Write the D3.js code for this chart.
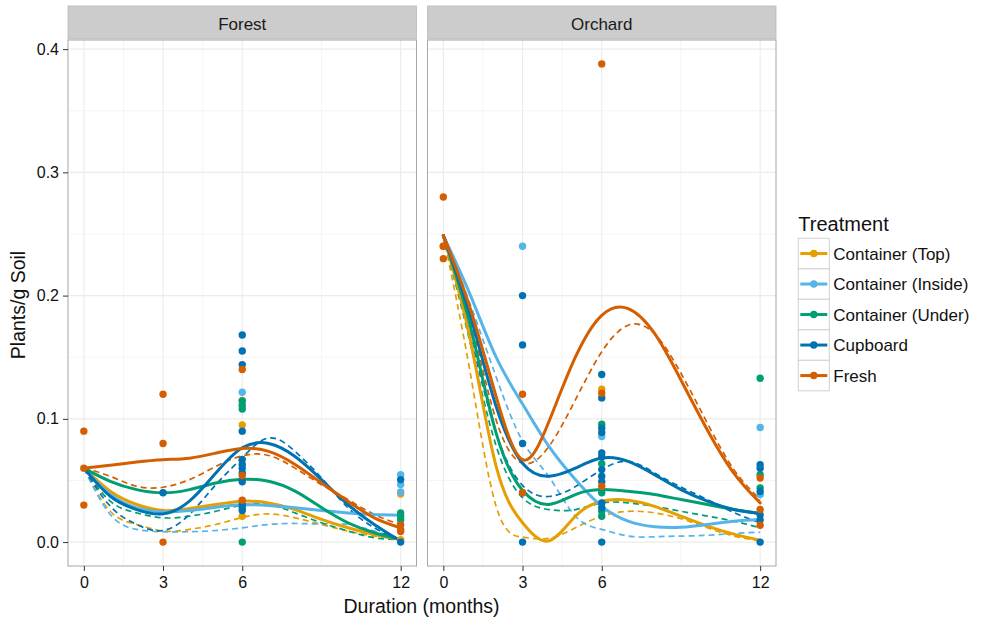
<!DOCTYPE html>
<html><head><meta charset="utf-8">
<script src="https://cdn.jsdelivr.net/npm/d3@7"></script>
<style>
body{margin:0;background:#fff;}
svg{display:block;font-family:"Liberation Sans",Arial,Helvetica,sans-serif;}
</style>
</head><body>
<svg id="c" width="981" height="620"></svg>
<script>
// ---------------- data ----------------
const treatments = ["Container (Top)", "Container (Inside)", "Container (Under)", "Cupboard", "Fresh"];
const panelNames = ["Forest", "Orchard"];
const xTickValues = [0, 3, 6, 12];
const xMinorValues = [1.5, 4.5, 9];
const yTickValues = [0, 0.1, 0.2, 0.3, 0.4];
const yMinorValues = [0.05, 0.15, 0.25, 0.35];
const fitMonths = [0, 1, 2, 3, 4, 5, 6, 7, 8, 9, 10, 11, 12];

// Forest – smooth fits (solid)
const forestTopSolid      = [0.060,0.0413,0.0305,0.0256,0.0272,0.0305,0.0332,0.0318,0.0264,0.0184,0.0116,0.0062,0.0022];
const forestInsideSolid   = [0.060,0.0386,0.0278,0.0245,0.0256,0.0283,0.0302,0.0297,0.0278,0.0256,0.0237,0.0224,0.0218];
const forestUnderSolid    = [0.060,0.0493,0.0426,0.0400,0.0426,0.0480,0.0510,0.0493,0.0413,0.0280,0.0157,0.0076,0.0022];
const forestCupboardSolid = [0.060,0.0372,0.0264,0.0229,0.0332,0.0560,0.0765,0.0800,0.0695,0.0507,0.0305,0.0143,0.0008];
const forestFreshSolid    = [0.060,0.0623,0.0650,0.0669,0.0681,0.0722,0.0760,0.0736,0.0630,0.0480,0.0332,0.0197,0.0116];
// Forest – smooth fits (dashed)
const forestTopDashed      = [0.060,0.0250,0.0143,0.0090,0.0103,0.0143,0.0200,0.0229,0.0197,0.0143,0.0090,0.0049,0.0022];
const forestInsideDashed   = [0.060,0.0224,0.0103,0.0084,0.0084,0.0094,0.0116,0.0143,0.0151,0.0148,0.0143,0.0090,0.0030];
const forestUnderDashed    = [0.060,0.0332,0.0237,0.0197,0.0210,0.0250,0.0300,0.0305,0.0237,0.0157,0.0090,0.0035,0.0022];
const forestCupboardDashed = [0.060,0.0291,0.0143,0.0094,0.0224,0.0466,0.0685,0.0845,0.0736,0.0520,0.0280,0.0116,0.0008];
const forestFreshDashed    = [0.060,0.0534,0.0453,0.0445,0.0507,0.0614,0.0700,0.0703,0.0600,0.0466,0.0345,0.0224,0.0143];

// Orchard – smooth fits (solid)
const orchardTopSolid      = [0.2487,0.1665,0.0614,0.0157,0.0010,0.0210,0.0332,0.0340,0.0290,0.0210,0.0130,0.0065,0.0015];
const orchardInsideSolid   = [0.2487,0.2016,0.1500,0.1120,0.0776,0.0507,0.0290,0.0170,0.0124,0.0120,0.0143,0.0170,0.0183];
const orchardUnderSolid    = [0.2487,0.1773,0.0884,0.0420,0.0305,0.0386,0.0426,0.0412,0.0386,0.0345,0.0305,0.0264,0.0232];
const orchardCupboardSolid = [0.2487,0.1854,0.1100,0.0640,0.0534,0.0600,0.0682,0.0655,0.0547,0.0426,0.0332,0.0264,0.0232];
const orchardFreshSolid    = [0.2487,0.1908,0.1180,0.0669,0.0978,0.1500,0.1840,0.1895,0.1693,0.1315,0.0910,0.0560,0.0318];
// Orchard – smooth fits (dashed)
const orchardTopDashed      = [0.2487,0.1396,0.0290,0.0040,0.0030,0.0116,0.0210,0.0250,0.0237,0.0190,0.0116,0.0049,0.0010];
const orchardInsideDashed   = [0.2487,0.1940,0.1340,0.0820,0.0530,0.0210,0.0103,0.0049,0.0043,0.0049,0.0055,0.0070,0.0080];
const orchardUnderDashed    = [0.2487,0.1630,0.0780,0.0360,0.0264,0.0264,0.0318,0.0318,0.0290,0.0250,0.0211,0.0170,0.0116];
const orchardCupboardDashed = [0.2487,0.1690,0.0884,0.0460,0.0370,0.0450,0.0588,0.0655,0.0561,0.0446,0.0345,0.0240,0.0157];
const orchardFreshDashed    = [0.2487,0.1830,0.0990,0.0640,0.0776,0.1154,0.1544,0.1760,0.1690,0.1370,0.0965,0.0590,0.0345];

// Observations [month, plants/g soil]
const forestPtsTop      = [[6,0.115],[6,0.095],[6,0.021],[12,0.039],[12,0.002]];
const forestPtsInside   = [[6,0.1216],[12,0.0547],[12,0.0467],[12,0.0407]];
const forestPtsUnder    = [[6,0.1145],[6,0.111],[6,0.108],[6,0.0],[12,0.0237],[12,0.021],[12,0.018]];
const forestPtsCupboard = [[3,0.04],[6,0.168],[6,0.155],[6,0.144],[6,0.090],[6,0.067],[6,0.063],[6,0.060],[6,0.056],[6,0.049],[6,0.0305],[6,0.028],[6,0.0256],[12,0.0507],[12,0.0]];
const forestPtsFresh    = [[0,0.09],[0,0.06],[0,0.03],[3,0.12],[3,0.08],[3,0.0],[6,0.14],[6,0.054],[6,0.034],[12,0.014],[12,0.010],[12,0.0085]];

const orchardPtsTop      = [[6,0.124]];
const orchardPtsInside   = [[3,0.24],[6,0.0857],[12,0.093],[12,0.0386]];
const orchardPtsUnder    = [[3,0.04],[6,0.0957],[6,0.0636],[6,0.040],[6,0.025],[6,0.021],[12,0.133],[12,0.0547],[12,0.044]];
const orchardPtsCupboard = [[3,0.20],[3,0.16],[3,0.08],[3,0.0],[6,0.136],[6,0.117],[6,0.0925],[6,0.089],[6,0.0723],[6,0.069],[6,0.0588],[6,0.0534],[6,0.049],[6,0.0318],[6,0.028],[6,0.0],[12,0.0628],[12,0.060],[12,0.041],[12,0.022],[12,0.018],[12,0.0]];
const orchardPtsFresh    = [[0,0.28],[0,0.24],[0,0.24],[0,0.23],[3,0.12],[3,0.04],[6,0.388],[6,0.1208],[6,0.0453],[12,0.052],[12,0.0264],[12,0.0137]];

// ---------------- styles ----------------
const colors = ["#E69F00", "#56B4E9", "#009E73", "#0072B2", "#D55E00"];

const panelData = [
  { name: panelNames[0],
    solid: [forestTopSolid, forestInsideSolid, forestUnderSolid, forestCupboardSolid, forestFreshSolid],
    dashed: [forestTopDashed, forestInsideDashed, forestUnderDashed, forestCupboardDashed, forestFreshDashed],
    pts: [forestPtsTop, forestPtsInside, forestPtsUnder, forestPtsCupboard, forestPtsFresh] },
  { name: panelNames[1],
    solid: [orchardTopSolid, orchardInsideSolid, orchardUnderSolid, orchardCupboardSolid, orchardFreshSolid],
    dashed: [orchardTopDashed, orchardInsideDashed, orchardUnderDashed, orchardCupboardDashed, orchardFreshDashed],
    pts: [orchardPtsTop, orchardPtsInside, orchardPtsUnder, orchardPtsCupboard, orchardPtsFresh] }
];

// ---------------- layout ----------------
const svg = d3.select("#c");
const panelX = [[68, 416.5], [427.5, 776]];
const panelTop = 40, panelBottom = 566, stripTop = 6;

const y = d3.scaleLinear().domain([-0.0194, 0.4074]).range([panelBottom, panelTop]);
const line = (xs) => d3.line().x((d, i) => xs(fitMonths[i])).y(d => y(d)).curve(d3.curveNatural);

panelData.forEach((p, pi) => {
  const [x0, x1] = panelX[pi];
  const x = d3.scaleLinear().domain([-0.6, 12.6]).range([x0, x1]);
  const g = svg.append("g");

  g.append("rect").attr("x", x0).attr("y", panelTop).attr("width", x1 - x0).attr("height", panelBottom - panelTop).attr("fill", "#fff");

  const grid = g.append("g");
  yMinorValues.forEach(v => grid.append("line").attr("x1", x0).attr("x2", x1).attr("y1", y(v)).attr("y2", y(v)).attr("stroke", "#F2F2F2").attr("stroke-width", 0.8));
  xMinorValues.forEach(v => grid.append("line").attr("y1", panelTop).attr("y2", panelBottom).attr("x1", x(v)).attr("x2", x(v)).attr("stroke", "#F2F2F2").attr("stroke-width", 0.8));
  yTickValues.forEach(v => grid.append("line").attr("x1", x0).attr("x2", x1).attr("y1", y(v)).attr("y2", y(v)).attr("stroke", "#EBEBEB").attr("stroke-width", 1.1));
  xTickValues.forEach(v => grid.append("line").attr("y1", panelTop).attr("y2", panelBottom).attr("x1", x(v)).attr("x2", x(v)).attr("stroke", "#EBEBEB").attr("stroke-width", 1.1));

  const clipId = "clip" + pi;
  svg.append("clipPath").attr("id", clipId).append("rect").attr("x", x0).attr("y", panelTop).attr("width", x1 - x0).attr("height", panelBottom - panelTop);
  const lg = g.append("g").attr("clip-path", `url(#${clipId})`);
  p.dashed.forEach((arr, ti) => {
    lg.append("path").attr("d", line(x)(arr)).attr("fill", "none").attr("stroke", colors[ti])
      .attr("stroke-width", 1.7).attr("stroke-dasharray", "6,4");
  });
  p.solid.forEach((arr, ti) => {
    lg.append("path").attr("d", line(x)(arr)).attr("fill", "none").attr("stroke", colors[ti])
      .attr("stroke-width", 3).attr("stroke-linecap", "round");
  });

  p.pts.forEach((arr, ti) => {
    g.append("g").selectAll("circle").data(arr).join("circle")
      .attr("cx", d => x(d[0])).attr("cy", d => y(d[1])).attr("r", 3.7).attr("fill", colors[ti]);
  });

  g.append("rect").attr("x", x0).attr("y", panelTop).attr("width", x1 - x0).attr("height", panelBottom - panelTop)
    .attr("fill", "none").attr("stroke", "#A6A6A6").attr("stroke-width", 1);

  g.append("rect").attr("x", x0).attr("y", stripTop).attr("width", x1 - x0).attr("height", panelTop - stripTop - 1)
    .attr("fill", "#CCCCCC").attr("stroke", "#B8B8B8").attr("stroke-width", 0.8);
  g.append("text").attr("x", (x0 + x1) / 2).attr("y", 29.5).attr("text-anchor", "middle")
    .attr("font-size", 17).attr("fill", "#1a1a1a").text(p.name);

  const xa = g.append("g").attr("transform", `translate(0,${panelBottom})`)
    .call(d3.axisBottom(x).tickValues(xTickValues).tickSize(5).tickPadding(6).tickFormat(d3.format("d")));
  xa.select(".domain").remove();
  xa.selectAll(".tick line").attr("stroke", "#333").attr("stroke-width", 1);
  xa.selectAll(".tick text").attr("font-size", 16).attr("fill", "#111").attr("font-family", null);

  if (pi === 0) {
    const ya = g.append("g").attr("transform", `translate(${x0},0)`)
      .call(d3.axisLeft(y).tickValues(yTickValues).tickSize(5).tickPadding(4).tickFormat(d3.format(".1f")));
    ya.select(".domain").remove();
    ya.selectAll(".tick line").attr("stroke", "#333").attr("stroke-width", 1);
    ya.selectAll(".tick text").attr("font-size", 16).attr("fill", "#111").attr("font-family", null);
  }
});

svg.append("text").attr("x", 421.5).attr("y", 612.5).attr("text-anchor", "middle")
  .attr("font-size", 19.5).attr("fill", "#111").text("Duration (months)");
svg.append("text").attr("transform", "translate(25,305) rotate(-90)").attr("text-anchor", "middle")
  .attr("font-size", 19.5).attr("fill", "#111").text("Plants/g Soil");

const lgX = 798.3, lgY = 238.3, rowH = 30.5, keyW = 31;
const leg = svg.append("g");
leg.append("text").attr("x", lgX).attr("y", 231).attr("font-size", 20).attr("fill", "#111").text("Treatment");
treatments.forEach((t, i) => {
  const ry = lgY + i * rowH;
  leg.append("rect").attr("x", lgX).attr("y", ry).attr("width", keyW).attr("height", rowH)
    .attr("fill", "#fff").attr("stroke", "#D0D0D0").attr("stroke-width", 1);
  leg.append("line").attr("x1", lgX + 2).attr("x2", lgX + keyW - 2).attr("y1", ry + rowH / 2).attr("y2", ry + rowH / 2)
    .attr("stroke", colors[i]).attr("stroke-width", 3);
  leg.append("circle").attr("cx", lgX + keyW / 2).attr("cy", ry + rowH / 2).attr("r", 3.7).attr("fill", colors[i]);
  leg.append("text").attr("x", lgX + keyW + 4).attr("y", ry + rowH / 2 + 6.3).attr("font-size", 17).attr("fill", "#111").text(t);
});
</script>
</body></html>
